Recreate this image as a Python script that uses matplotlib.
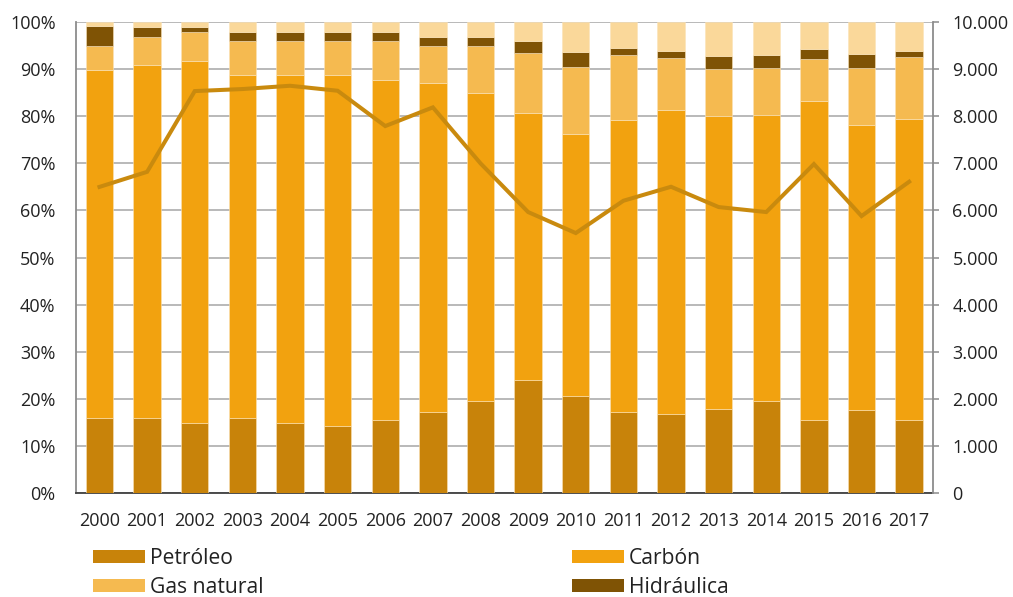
import matplotlib
matplotlib.use("Agg")
import matplotlib.pyplot as plt
from matplotlib.patches import Patch
from matplotlib.ticker import FuncFormatter, MultipleLocator
import numpy as np

plt.rcParams['font.family'] = ['Open Sans', 'DejaVu Sans']

years = ['2000', '2001', '2002', '2003', '2004', '2005', '2006', '2007', '2008',
         '2009', '2010', '2011', '2012', '2013', '2014', '2015', '2016', '2017']

# Share of each source in the mix (%)
petroleo = [15.9, 15.9, 14.9, 15.9, 14.9, 14.2, 15.6, 17.3, 19.6,
            24.1, 20.5, 17.3, 16.8, 17.9, 19.6, 15.6, 17.7, 15.6]
carbon = [73.9, 75.0, 76.8, 72.8, 73.8, 74.5, 72.2, 69.7, 65.4,
          56.6, 55.7, 62.0, 64.5, 62.1, 60.7, 67.7, 60.4, 63.9]
gas_natural = [5.1, 6.0, 6.2, 7.2, 7.2, 7.2, 8.1, 7.9, 9.9,
               12.8, 14.2, 13.8, 11.0, 10.0, 10.0, 8.9, 12.2, 13.0]
hidraulica = [4.2, 2.1, 1.1, 1.9, 1.9, 1.9, 1.9, 1.9, 1.9,
              2.4, 3.2, 1.5, 1.5, 2.9, 2.7, 2.1, 2.9, 1.3]
otras = [0.9, 1.0, 1.0, 2.2, 2.2, 2.2, 2.2, 3.2, 3.2,
         4.1, 6.4, 5.4, 6.2, 7.1, 7.0, 5.7, 6.8, 6.2]

# Total (right axis)
total = [6500, 6820, 8535, 8578, 8648, 8542, 7792, 8189, 7000,
         5966, 5520, 6206, 6503, 6072, 5966, 6985, 5881, 6610]

series = [
    ('Petróleo', petroleo, '#C8830A'),
    ('Carbón', carbon, '#F2A20F'),
    ('Gas natural', gas_natural, '#F5BA50'),
    ('Hidráulica', hidraulica, '#7F5305'),
    (None, otras, '#FAD89A'),
]

fig = plt.figure(figsize=(10.13, 5.97), dpi=100)
ax = fig.add_axes([0.0747, 0.1742, 0.8463, 0.7888])

x = np.arange(len(years))
bottom = np.zeros(len(years))
for name, vals, col in series:
    vals = np.array(vals)
    ax.bar(x, vals, bottom=bottom, width=0.574, color=col,
           edgecolor='#FBE3B8', linewidth=0.4, zorder=3)
    bottom += vals

ax.set_xlim(-0.5, len(years) - 0.5)
ax.set_ylim(0, 100)
ax.yaxis.set_major_locator(MultipleLocator(10))
ax.yaxis.set_major_formatter(FuncFormatter(lambda v, p: f'{int(round(v))}%'))
ax.set_xticks(x)
ax.set_xticklabels(years)
ax.grid(axis='y', color='#A6A6A6', linewidth=1.1, zorder=0)
ax.set_axisbelow(True)

ax.spines['top'].set_visible(False)
ax.spines['left'].set_color('#8C8C8C')
ax.spines['left'].set_linewidth(1.3)
ax.spines['bottom'].set_color('#404040')
ax.spines['bottom'].set_linewidth(1.3)
ax.spines['right'].set_visible(False)
ax.tick_params(axis='y', length=0, labelsize=13,
               labelcolor='#222222', pad=14.5)
ax.tick_params(axis='x', length=0, labelsize=13, labelcolor='#222222', pad=14)

ax2 = ax.twinx()
ax2.plot(x, total, color='#C98A0E', linewidth=2.9, zorder=5,
         solid_joinstyle='miter')
ax2.set_ylim(0, 10000)
ax2.yaxis.set_major_locator(MultipleLocator(1000))
ax2.yaxis.set_major_formatter(
    FuncFormatter(lambda v, p: f'{int(round(v)):,}'.replace(',', '.')))
for s in ['top', 'left', 'bottom']:
    ax2.spines[s].set_visible(False)
ax2.spines['right'].set_color('#8C8C8C')
ax2.spines['right'].set_linewidth(1.3)
ax2.tick_params(axis='y', length=4.5, width=1.1, color='#8C8C8C', labelsize=13,
                labelcolor='#222222', pad=9.5)

# Legend in two columns
handles = {name: Patch(facecolor=col, edgecolor='none')
           for name, vals, col in series if name}
leg_kw = dict(frameon=False, fontsize=15.2, handlelength=2.46,
              handleheight=0.62, handletextpad=0.24, labelspacing=0.38,
              borderpad=0, borderaxespad=0, loc='upper left')
leg1 = fig.legend([handles['Petróleo'], handles['Gas natural']],
                  ['Petróleo', 'Gas natural'],
                  bbox_to_anchor=(93 / 1013, 1 - 548 / 597), **leg_kw)
leg2 = fig.legend([handles['Carbón'], handles['Hidráulica']],
                  ['Carbón', 'Hidráulica'],
                  bbox_to_anchor=(572 / 1013, 1 - 548 / 597), **leg_kw)
for leg in (leg1, leg2):
    for t in leg.get_texts():
        t.set_color('#222222')

fig.savefig('out.png', dpi=100)
